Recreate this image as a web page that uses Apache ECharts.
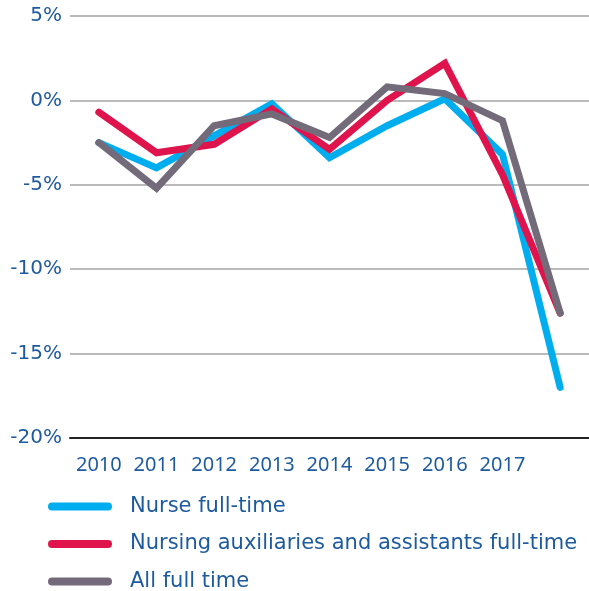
<!DOCTYPE html>
<html>
<head>
<meta charset="utf-8">
<script src="https://cdn.jsdelivr.net/npm/echarts@6/dist/echarts.min.js"></script>
<style>
  html, body { margin: 0; padding: 0; background: #fff; }
  #chart { width: 589px; height: 591px; }
</style>
</head>
<body>
<div id="chart"></div>
<script>
// x categories (last point has no label)
const years = ['2010', '2011', '2012', '2013', '2014', '2015', '2016', '2017', '']
// % change
const nurseFullTime = [-2.5, -4.0, -2.1, -0.2, -3.4, -1.5, 0.1, -3.2, -17.0]
const auxiliariesFullTime = [-0.7, -3.1, -2.6, -0.5, -2.9, 0.0, 2.2, -4.4, -12.6]
const allFullTime = [-2.5, -5.2, -1.5, -0.8, -2.2, 0.8, 0.4, -1.2, -12.6]
const seriesNames = ['Nurse full-time', 'Nursing auxiliaries and assistants full-time', 'All full time']

const textColor = '#1d5a9e'
const colors = ['#00aeef', '#e0144c', '#736b7a']

const myChart = echarts.init(document.getElementById('chart'))

function lineSeries (name, data, color) {
  return {
    name: name,
    type: 'line',
    data: data,
    symbol: 'none',
    lineStyle: { color: color, width: 7, cap: 'round', join: 'miter' },
    itemStyle: { color: color }
  }
}

const option = {
  animation: false,
  grid: { left: 70, right: 0, top: 16, bottom: 153 },
  xAxis: {
    type: 'category',
    data: years,
    boundaryGap: true,
    axisLine: { onZero: false, lineStyle: { color: '#222', width: 2 } },
    axisTick: { show: false },
    axisLabel: { color: textColor, fontSize: 20, fontFamily: 'Noto Sans', margin: 17, interval: 0 }
  },
  yAxis: {
    type: 'value',
    min: -20,
    max: 5,
    interval: 5,
    axisLine: { show: false },
    axisTick: { show: false },
    axisLabel: { color: textColor, fontSize: 20, fontFamily: 'DejaVu Sans', margin: 8, formatter: '{value}%' },
    splitLine: { lineStyle: { color: '#a3a3a3', width: 1.5 } }
  },
  legend: {
    orient: 'vertical',
    left: 48,
    top: 496,
    height: 120,
    padding: 0,
    itemWidth: 64,
    itemHeight: 9,
    itemGap: 16.5,
    icon: 'path://M4,0 H60 A4,4 0 0 1 60,8 H4 A4,4 0 0 1 4,0 Z',
    textStyle: { color: textColor, fontSize: 21, fontFamily: 'DejaVu Sans', padding: [0, 0, 0, 13] },
    data: seriesNames
  },
  series: [
    lineSeries(seriesNames[0], nurseFullTime, colors[0]),
    lineSeries(seriesNames[1], auxiliariesFullTime, colors[1]),
    lineSeries(seriesNames[2], allFullTime, colors[2])
  ]
}
myChart.setOption(option)
</script>
</body>
</html>
